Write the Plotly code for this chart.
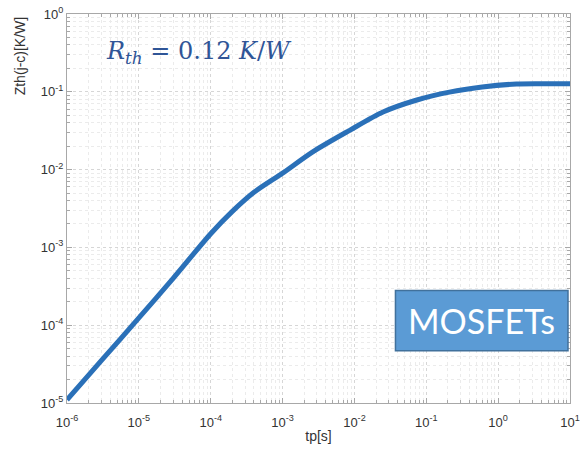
import plotly.graph_objects as go

# Data
tp = [1e-6, 3e-6, 1e-5, 3e-5, 1e-4, 2e-4, 4e-4, 1e-3, 2.6e-3, 8.6e-3,
      2.5e-2, 7.4e-2, 0.21, 0.6, 1.8, 4.0, 10.0]
zth = [1.1e-5, 3.5e-5, 1.24e-4, 4.0e-4, 1.5e-3, 2.9e-3, 5.1e-3, 9.0e-3,
       1.68e-2, 3.2e-2, 5.5e-2, 7.85e-2, 9.9e-2, 0.115, 0.126, 0.127, 0.127]

x_tickvals = [1e-6, 1e-5, 1e-4, 1e-3, 1e-2, 1e-1, 1e0, 1e1]
x_ticktext = ["10<sup>-6</sup>", "10<sup>-5</sup>", "10<sup>-4</sup>", "10<sup>-3</sup>",
              "10<sup>-2</sup>", "10<sup>-1</sup>", "10<sup>0</sup>", "10<sup>1</sup>"]
y_tickvals = [1e-5, 1e-4, 1e-3, 1e-2, 1e-1, 1e0]
y_ticktext = ["10<sup>-5</sup>", "10<sup>-4</sup>", "10<sup>-3</sup>",
              "10<sup>-2</sup>", "10<sup>-1</sup>", "10<sup>0</sup>"]

fig = go.Figure()
fig.add_trace(go.Scatter(
    x=tp, y=zth, mode="lines",
    line=dict(color="#2a70b8", width=5, shape="spline", smoothing=0.8),
    showlegend=False, hoverinfo="skip"))

axis_common = dict(
    type="log",
    showline=True, linecolor="#a8a8a8", linewidth=1, mirror="ticks",
    ticks="inside", ticklen=5, tickcolor="#a8a8a8",
    showgrid=True, gridcolor="#d6d6d6", griddash="dot", gridwidth=1,
    minor=dict(ticks="inside", ticklen=3, tickcolor="#a8a8a8",
               showgrid=True, gridcolor="#ebebeb", griddash="dot", dtick="D1"),
    tickfont=dict(family="Liberation Sans, Arial", size=13, color="#333333"),
    ticklabeloverflow="allow",
    automargin=False,
    zeroline=False,
)

fig.update_xaxes(**axis_common, range=[-6, 1], tickmode="array",
                 tickvals=x_tickvals, ticktext=x_ticktext, ticklabelstandoff=7,
                 title=dict(text="tp[s]", standoff=2,
                            font=dict(family="Liberation Sans, Arial", size=14, color="#333333")))
fig.update_yaxes(**axis_common, range=[-5, 0], tickmode="array",
                 tickvals=y_tickvals, ticktext=y_ticktext)

# Y axis label (placed at the top-left like the reference)
fig.add_annotation(
    xref="paper", yref="paper", x=-0.094, y=0.893, xanchor="center", yanchor="middle",
    text="Zth(j-c)[K/W]", textangle=-90, showarrow=False,
    font=dict(family="Liberation Sans, Arial", size=14, color="#333333"))

# R_th label
fig.add_annotation(
    xref="paper", yref="paper", x=0.074, y=0.90, xanchor="left", yanchor="middle",
    text="<i>R</i><sub><i>th</i></sub> = 0.12 <i>K</i>/<i>W</i>",
    showarrow=False,
    font=dict(family="DejaVu Serif", size=24, color="#2f5597"))

# MOSFETs box
fig.add_shape(type="rect", xref="paper", yref="paper",
              x0=0.653, x1=0.996, y0=0.134, y1=0.289,
              fillcolor="#5b9bd5", line=dict(color="#41719c", width=1.5), layer="above")
fig.add_annotation(
    xref="paper", yref="paper", x=0.8245, y=0.211, xanchor="center", yanchor="middle",
    text="MOSFETs", showarrow=False,
    font=dict(family="Lato, Open Sans", size=34, color="white"))

fig.update_layout(
    width=583, height=455,
    margin=dict(l=67, r=13, t=14, b=52, autoexpand=False),
    paper_bgcolor="white", plot_bgcolor="white",
)

fig.write_html("out.html", config={"displayModeBar": False},
               post_script="document.body.style.margin='0';")
